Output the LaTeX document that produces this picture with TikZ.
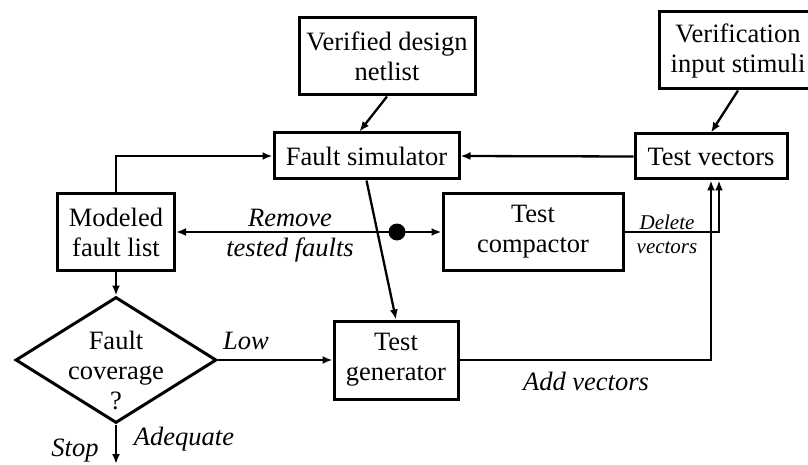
\documentclass[tikz,border=0pt]{standalone}
\usepackage{fontspec}
\setmainfont{Liberation Serif}
\usetikzlibrary{positioning}
\usetikzlibrary{shapes.geometric,arrows.meta}

\begin{document}
\begin{tikzpicture}[x=1pt, y=-1pt, >={Latex[length=10pt,width=8pt]},
  every node/.style={font=\fontsize{26.5}{30}\selectfont, align=center, inner sep=0pt},
  block/.style={draw, line width=3pt, rectangle},
  decision/.style={draw, line width=3pt, diamond, minimum width=201pt, minimum height=126pt},
  flow/.style={line width=2.3pt, ->},
  tag/.style={font=\fontsize{26.5}{30}\selectfont\itshape},
  smalltag/.style={font=\fontsize{21}{24}\selectfont\itshape},
  junction/.style={circle, fill, minimum size=17pt},
]
  \useasboundingbox (0,0) rectangle (808,465);

  \node[block, minimum width=176pt, minimum height=77pt] (netlist) at (387,56.5) {Verified design\\netlist};
  \node[block, minimum width=158pt, minimum height=77pt] (stimuli) at (738,50.5) {Verification\\input stimuli};
  \node[block, minimum width=185pt, minimum height=46pt] (fsim) at (366.5,156) {Fault simulator};
  \node[block, minimum width=152pt, minimum height=45pt] (tvec) at (711,156.5) {Test vectors};
  \node[block, minimum width=117pt, minimum height=77pt] (mflist) at (116,232) {Modeled\\fault list};
  \node[block, minimum width=180pt, minimum height=77pt] (tcomp) at (533,232) {Test\\compactor};
  \node[decision, label={[yshift=-10pt]center:{Fault\\coverage\\?}}] (cov) at (116,360) {};
  \node[block, minimum width=124pt, minimum height=78pt] (tgen) at (396,360) {Test\\generator};
  \node[junction] (junc) at (397,232) {};

  \draw[flow] (netlist.south) -- ([xshift=-7pt]fsim.north);
  \draw[flow] (stimuli.south) -- (tvec.north);
  \draw[flow] (tvec.west) -- (fsim.east);
  \draw[flow] (mflist.north) |- (fsim.west);
  \draw[flow] (fsim.south) -- (tgen.north);
  \draw[flow, <->] (mflist.east) -- (tcomp.west);
  \node[tag] (remove) at (290,236) {Remove\\tested faults};
  \draw[flow] (tcomp.east) -| ([xshift=8pt]tvec.south);
  \node[smalltag] (delete) at (667,234) {Delete\\vectors};
  \draw[flow] (tgen.east) -| (tvec.south);
  \node[tag] (add) at (586,381) {Add vectors};
  \draw[flow] (mflist.south) -- (cov.north);
  \draw[flow] (cov.east) -- (tgen.west);
  \node[tag] (low) at (246,341) {Low};
  \coordinate (stop) at (116,464);
  \draw[flow] (cov.south) -- (stop);
  \node[tag] (adequate) at (184,439) {Adequate};
  \node[tag] (stoplabel) at (75,451) {Stop};
\end{tikzpicture}
\end{document}
